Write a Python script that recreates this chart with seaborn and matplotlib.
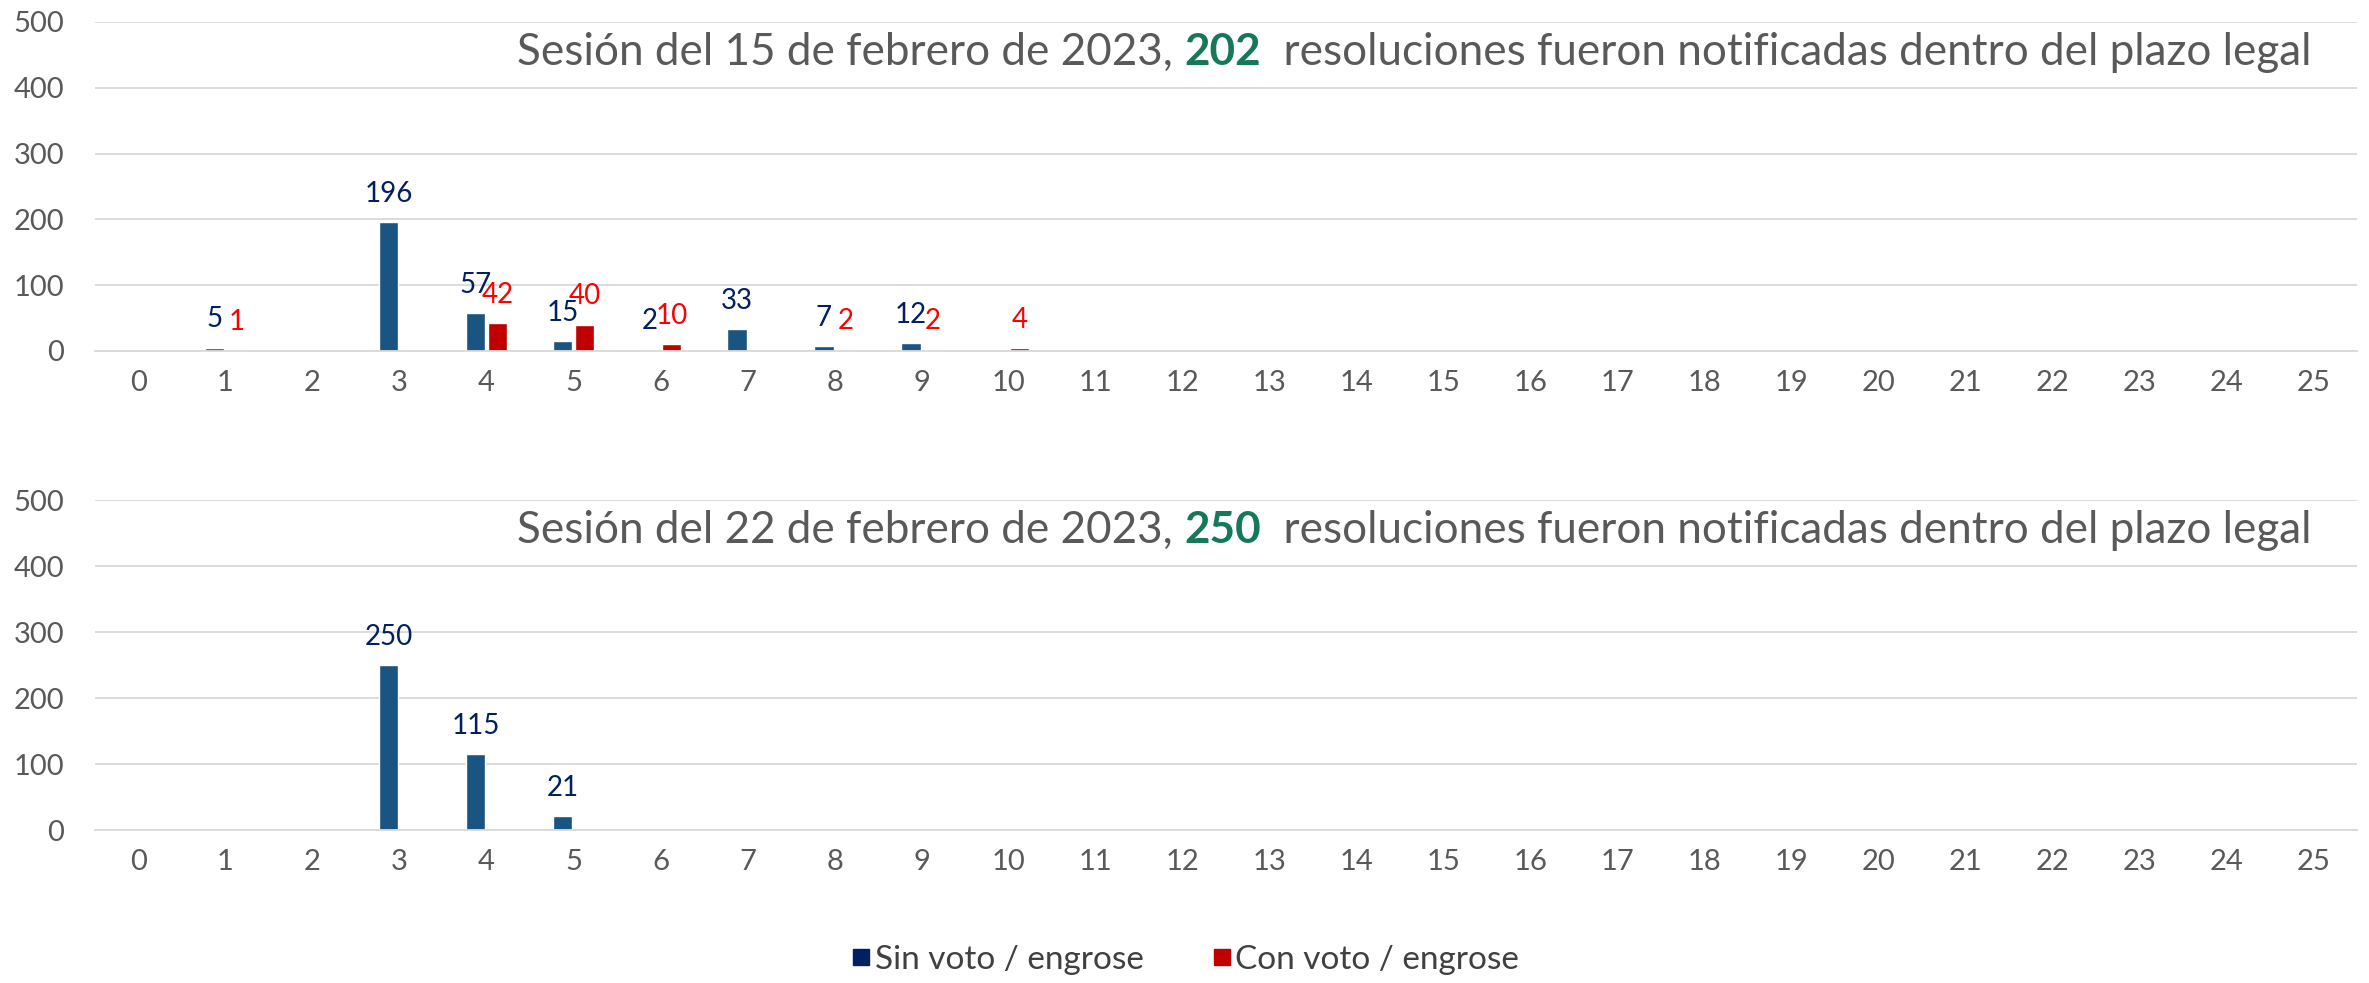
import pandas as pd
import matplotlib.pyplot as plt
import seaborn as sns
from matplotlib.lines import Line2D
from matplotlib.ticker import FixedLocator, MultipleLocator

# --- data ---
dias = list(range(26))
sin_voto_15 = [0, 5, 0, 196, 57, 15, 2, 33, 7, 12, 0, 0, 0, 0, 0, 0, 0, 0, 0, 0, 0, 0, 0, 0, 0, 0]
con_voto_15 = [0, 1, 0, 0, 42, 40, 10, 0, 2, 2, 4, 0, 0, 0, 0, 0, 0, 0, 0, 0, 0, 0, 0, 0, 0, 0]
sin_voto_22 = [0, 0, 0, 250, 115, 21, 0, 0, 0, 0, 0, 0, 0, 0, 0, 0, 0, 0, 0, 0, 0, 0, 0, 0, 0, 0]
con_voto_22 = [0, 0, 0, 0, 0, 0, 0, 0, 0, 0, 0, 0, 0, 0, 0, 0, 0, 0, 0, 0, 0, 0, 0, 0, 0, 0]
series = ["Sin voto / engrose", "Con voto / engrose"]
fechas = ["15", "22"]
totales = ["202", "250"]

# --- styling ---
BAR_BLUE = "#1A5480"
BAR_RED = "#C00000"
LBL_BLUE = "#002060"
LBL_RED = "#FF0000"
LEG_BLUE = "#002060"
GREEN = "#16785A"
GRAY = "#595959"
GRID = "#D9D9D9"
TITLE_SIZE = 31.7

sns.set_style("white")
plt.rcParams['font.family'] = ['Lato', 'DejaVu Sans']

fig = plt.figure(figsize=(23.69, 9.83), dpi=100)
ax_top = fig.add_axes([0.0401, 0.643, 0.955, 0.3347])
ax_bot = fig.add_axes([0.0401, 0.1556, 0.955, 0.3357])


def draw_panel(ax, sin, con, fecha, total):
    df = pd.DataFrame({
        "dia": dias + dias,
        "valor": sin + con,
        "tipo": [series[0]] * len(dias) + [series[1]] * len(dias),
    })
    sns.barplot(data=df, x="dia", y="valor", hue="tipo", order=dias, hue_order=series,
                palette=[BAR_BLUE, BAR_RED], width=0.5, gap=0.1, saturation=1,
                legend=False, ax=ax)

    # data labels, only for non-zero values
    for cont, vals, color in zip(ax.containers, [sin, con], [LBL_BLUE, LBL_RED]):
        ax.bar_label(cont, labels=[str(v) if v else "" for v in vals],
                     padding=11, color=color, fontsize=20)

    ax.set_ylim(0, 500)
    ax.set_xlim(-0.5, len(dias) - 0.5)
    ax.yaxis.set_major_locator(MultipleLocator(100))
    ax.grid(axis="y", color=GRID, lw=1.3)
    ax.set_axisbelow(True)
    for side in ["left", "right", "top"]:
        ax.spines[side].set_visible(False)
    ax.spines["bottom"].set_color(GRID)
    ax.spines["bottom"].set_linewidth(1.3)

    # Excel-style tick marks between the categories
    ax.xaxis.set_minor_locator(FixedLocator([d - 0.5 for d in dias] + [dias[-1] + 0.5]))
    ax.tick_params(axis="x", which="minor", length=8, width=1.2, color=GRID)
    ax.tick_params(axis="x", which="major", length=0, pad=14, labelsize=21, labelcolor=GRAY)
    ax.tick_params(axis="y", length=0, pad=22, labelsize=21, labelcolor=GRAY)
    ax.set_xlabel("")
    ax.set_ylabel("")

    # title made of three coloured pieces
    y = 0.87
    t1 = ax.text(0.1866, y, f"Sesión del {fecha} de febrero de 2023, ", transform=ax.transAxes,
                 fontsize=TITLE_SIZE, color=GRAY, va="baseline")
    t2 = ax.annotate(total, xy=(1, y), xycoords=(t1, "axes fraction"), fontsize=TITLE_SIZE,
                     color=GREEN, weight="bold", va="baseline")
    ax.annotate("  resoluciones fueron notificadas dentro del plazo legal", xy=(1, y),
                xycoords=(t2, "axes fraction"), fontsize=TITLE_SIZE, color=GRAY, va="baseline")


draw_panel(ax_top, sin_voto_15, con_voto_15, fechas[0], totales[0])
draw_panel(ax_bot, sin_voto_22, con_voto_22, fechas[1], totales[1])

handles = [
    Line2D([], [], marker="s", ls="", color=LEG_BLUE, markersize=12, label=series[0]),
    Line2D([], [], marker="s", ls="", color=BAR_RED, markersize=12, label=series[1]),
]
fig.legend(handles=handles, loc="lower center", bbox_to_anchor=(0.5, -0.022), ncol=2,
           frameon=False, fontsize=24, labelcolor="#404040", handletextpad=0.05,
           handlelength=0.7, columnspacing=2.0)

fig.savefig("out.png", dpi=100)
